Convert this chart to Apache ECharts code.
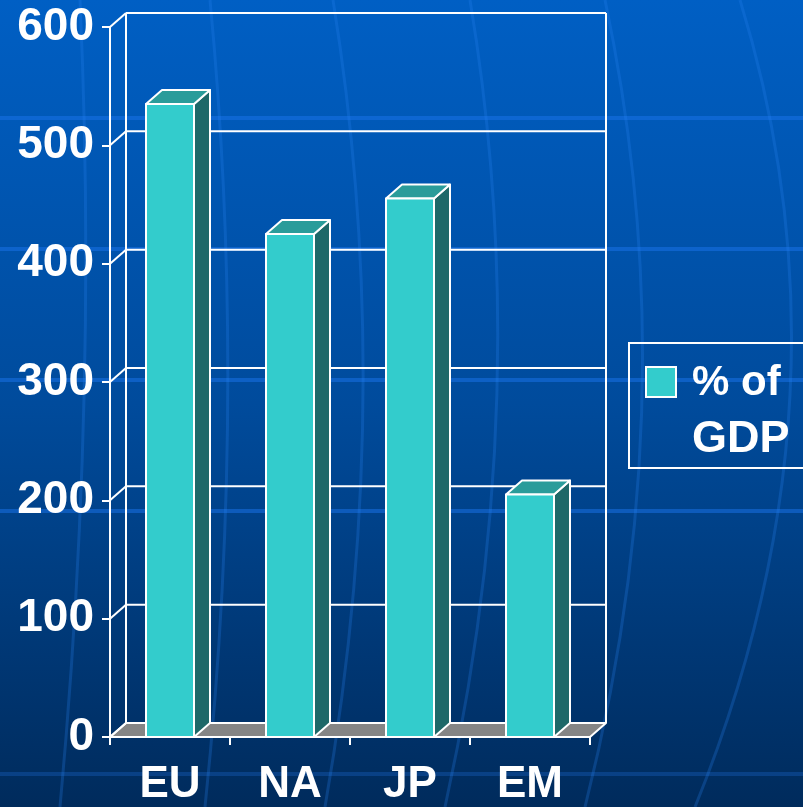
<!DOCTYPE html>
<html>
<head>
<meta charset="utf-8">
<title>% of GDP</title>
<script src="https://cdn.jsdelivr.net/npm/echarts@6/dist/echarts.min.js"></script>
<style>
  html, body { margin: 0; padding: 0; background: #00306a; }
  #chart { width: 803px; height: 807px; }
</style>
</head>
<body>
<div id="chart"></div>
<script>
// Chart data
const categories = ['EU', 'NA', 'JP', 'EM'];
const gdpShare = [535, 425, 455, 205];
const seriesName = '% of GDP';
const yTicks = [0, 100, 200, 300, 400, 500, 600];

// Depth offset of the pseudo-3D box (pixels)
const DX = 16, DY = -14;
const WHITE = '#ffffff';
const FONT = '"Liberation Sans", Arial, sans-serif';

const chart = echarts.init(document.getElementById('chart'), null, { renderer: 'canvas' });

function line(x1, y1, x2, y2, z2) {
  return {
    type: 'line',
    shape: { x1: x1, y1: y1, x2: x2, y2: y2 },
    style: { stroke: WHITE, lineWidth: 2 },
    z2: z2 || 0
  };
}

// Floor, back wall gridlines and side-wall diagonals
function renderWall(params, api) {
  const cs = params.coordSys;
  const L = cs.x, R = cs.x + cs.width;
  const y0 = api.coord([0, yTicks[0]])[1];
  const yTop = api.coord([0, yTicks[yTicks.length - 1]])[1];
  const children = [];
  children.push({
    type: 'polygon',
    shape: { points: [[L, y0], [R, y0], [R + DX, y0 + DY], [L + DX, y0 + DY]] },
    style: { fill: '#858585', stroke: WHITE, lineWidth: 2, lineJoin: 'round' }
  });
  yTicks.forEach(function (v) {
    const y = api.coord([0, v])[1];
    children.push(line(L + DX, y + DY, R + DX, y + DY, 1));
    children.push(line(L, y, L + DX, y + DY, 1));
  });
  children.push(line(L + DX, yTop + DY, L + DX, y0 + DY, 1));
  children.push(line(R + DX, yTop + DY, R + DX, y0 + DY, 1));
  return { type: 'group', children: children };
}

// Extruded bar: side face, top face, front face
function renderBar(params, api) {
  const cat = api.value(0);
  const v = api.value(1);
  const base = api.coord([cat, 0]);
  const top = api.coord([cat, v]);
  const bw = api.size([1, 0])[0] * 0.4;
  const x0 = base[0] - bw / 2, x1 = base[0] + bw / 2;
  const yb = base[1], yt = top[1];
  const stroke = { stroke: WHITE, lineWidth: 2, lineJoin: 'round' };
  return {
    type: 'group',
    children: [
      {
        type: 'polygon',
        shape: { points: [[x1, yb], [x1 + DX, yb + DY], [x1 + DX, yt + DY], [x1, yt]] },
        style: Object.assign({ fill: '#1e6868' }, stroke)
      },
      {
        type: 'polygon',
        shape: { points: [[x0, yt], [x1, yt], [x1 + DX, yt + DY], [x0 + DX, yt + DY]] },
        style: Object.assign({ fill: '#2a9c9a' }, stroke)
      },
      {
        type: 'rect',
        shape: { x: x0, y: yt, width: bw, height: yb - yt },
        style: Object.assign({ fill: '#33cccc' }, stroke)
      }
    ]
  };
}

// Decorative background: faint horizontal bands and sweeping arcs
const bgGraphics = [];
[118, 249, 380, 511, 774].forEach(function (y, i) {
  bgGraphics.push({
    type: 'line',
    shape: { x1: 0, y1: y, x2: 803, y2: y },
    style: { stroke: i < 4 ? 'rgba(25,115,235,0.5)' : 'rgba(25,100,200,0.35)', lineWidth: 4 },
    z: -10, silent: true
  });
});
[
  [80, 0, 98, 396, 60, 807],
  [210, 0, 248, 396, 205, 807],
  [333, 0, 397, 396, 325, 807],
  [470, 0, 536, 396, 445, 807],
  [605, 0, 689, 396, 585, 807],
  [740, 0, 862, 396, 695, 807]
].forEach(function (c) {
  bgGraphics.push({
    type: 'bezierCurve',
    shape: { x1: c[0], y1: c[1], cpx1: c[2], cpy1: c[3], x2: c[4], y2: c[5] },
    style: { stroke: 'rgba(40,130,245,0.25)', lineWidth: 3, fill: null },
    z: -10, silent: true
  });
});

// Legend box
const legendGraphics = [
  {
    type: 'rect',
    shape: { x: 629, y: 343, width: 200, height: 125 },
    style: { fill: null, stroke: WHITE, lineWidth: 2 },
    z: 10
  },
  {
    type: 'rect',
    shape: { x: 646, y: 367, width: 30, height: 30 },
    style: { fill: '#33cccc', stroke: WHITE, lineWidth: 2 },
    z: 10
  },
  {
    type: 'text',
    x: 692, y: 383,
    style: { text: '% of', fill: WHITE, font: 'bold 42px ' + FONT, verticalAlign: 'middle', align: 'left' },
    z: 10
  },
  {
    type: 'text',
    x: 692, y: 440,
    style: { text: 'GDP', fill: WHITE, font: 'bold 45px ' + FONT, verticalAlign: 'middle', align: 'left' },
    z: 10
  }
];

const option = {
  animation: false,
  backgroundColor: {
    type: 'linear', x: 0, y: 0, x2: 0, y2: 1,
    colorStops: [
      { offset: 0, color: '#005fc4' },
      { offset: 0.5, color: '#004b9c' },
      { offset: 1, color: '#002b5c' }
    ]
  },
  grid: { left: 110, top: 27, width: 480, height: 710, containLabel: false },
  xAxis: {
    type: 'category',
    data: categories,
    boundaryGap: true,
    axisLine: { show: true, lineStyle: { color: WHITE, width: 2 } },
    axisTick: { show: true, length: 8, lineStyle: { color: WHITE, width: 2 } },
    axisLabel: { color: WHITE, fontSize: 44, fontWeight: 'bold', fontFamily: FONT, margin: 26 },
    splitLine: { show: false }
  },
  yAxis: {
    type: 'value',
    min: yTicks[0],
    max: yTicks[yTicks.length - 1],
    interval: 100,
    axisLine: { show: true, lineStyle: { color: WHITE, width: 2 } },
    axisTick: { show: true, length: 8, lineStyle: { color: WHITE, width: 2 } },
    axisLabel: { color: WHITE, fontSize: 46, fontWeight: 'bold', fontFamily: FONT, margin: 16 },
    splitLine: { show: false }
  },
  graphic: bgGraphics.concat(legendGraphics),
  series: [
    {
      type: 'custom',
      name: 'wall',
      renderItem: renderWall,
      data: [[0, 0]],
      clip: false,
      silent: true,
      z: 1
    },
    {
      type: 'custom',
      name: seriesName,
      renderItem: renderBar,
      data: categories.map(function (c, i) { return [i, gdpShare[i]]; }),
      encode: { x: 0, y: 1 },
      clip: false,
      z: 3
    }
  ]
};

chart.setOption(option);
</script>
</body>
</html>
